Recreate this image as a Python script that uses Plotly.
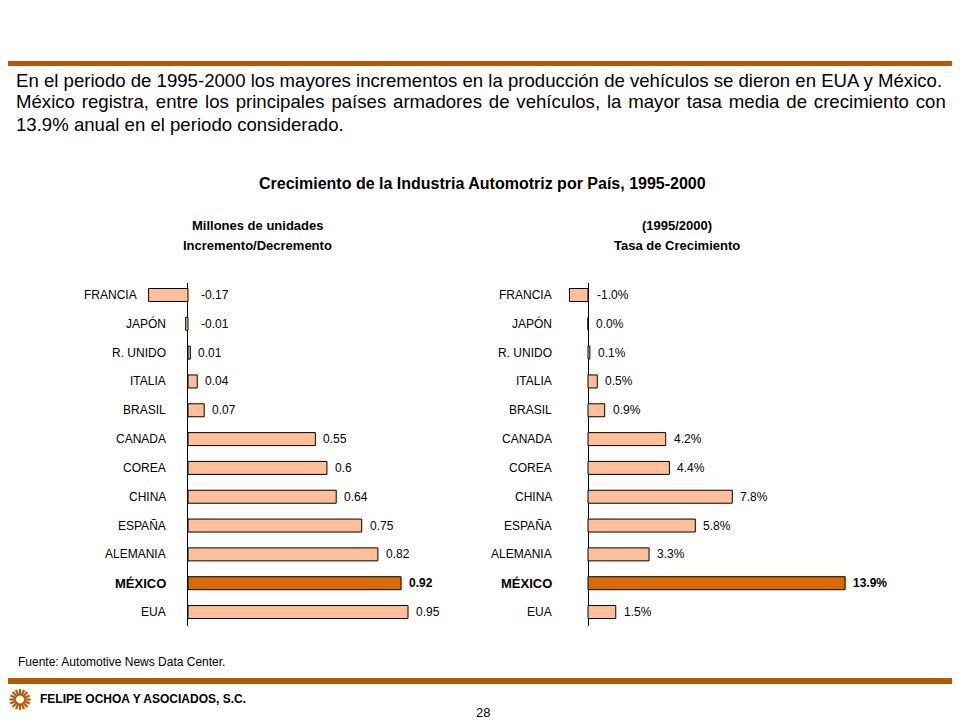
import math
import plotly.graph_objects as go

W, H = 960, 720

countries = ["FRANCIA", "JAPÓN", "R. UNIDO", "ITALIA", "BRASIL", "CANADA",
             "COREA", "CHINA", "ESPAÑA", "ALEMANIA", "MÉXICO", "EUA"]
incremento = [-0.17, -0.01, 0.01, 0.04, 0.07, 0.55, 0.6, 0.64, 0.75, 0.82, 0.92, 0.95]
tasa = [-1.0, 0.0, 0.1, 0.5, 0.9, 4.2, 4.4, 7.8, 5.8, 3.3, 13.9, 1.5]
highlight = "MÉXICO"

paragraph = [
    "En el periodo de 1995-2000 los mayores incrementos en la producción de vehículos se dieron en EUA y México.",
    "México registra, entre los principales países armadores de vehículos, la mayor tasa media de crecimiento con",
    "13.9% anual en el periodo considerado.",
]
paragraph_word_spacing = [0, 1.7, 0]
title = "Crecimiento de la Industria Automotriz por País, 1995-2000"
left_sub = ["Millones de unidades", "Incremento/Decremento"]
right_sub = ["(1995/2000)", "Tasa de Crecimiento"]
source = "Fuente: Automotive News Data Center."
company = "FELIPE OCHOA Y ASOCIADOS, S.C."
page = "28"

FONT = "Arial, Liberation Sans, sans-serif"
BAR = "#FFBF99"
BAR_HI = "#D96C00"
BROWN = "#B35A00"


def px(x):
    return x / W


def py(y):
    return 1 - y / H


fig = go.Figure()

ydom = [py(626), py(283)]
yrange = [11.485, -0.416]
panels = [
    dict(vals=incremento, xa="x", ya="y", dom=[130, 450], rng=[-0.2504, 1.1313],
         fmt=lambda v: f"{v:g}", gap_axis=20, gap_bar=10, vneg=11, vpos=6),
    dict(vals=tasa, xa="x2", ya="y2", dom=[540, 900], rng=[-2.595, 16.865],
         fmt=lambda v: f"{v:.1f}%", gap_axis=34, gap_bar=6, vneg=7, vpos=6),
]

annotations = []
for p in panels:
    colors = [BAR_HI if c == highlight else BAR for c in countries]
    fig.add_trace(go.Bar(
        x=p["vals"], y=countries, orientation="h", xaxis=p["xa"], yaxis=p["ya"],
        marker=dict(color=colors, line=dict(color="black", width=1)),
        width=0.45, showlegend=False, hoverinfo="skip",
    ))
    ppu = (p["dom"][1] - p["dom"][0]) / (p["rng"][1] - p["rng"][0])
    for c, v in zip(countries, p["vals"]):
        bold = c == highlight
        lx = min(0 - p["gap_axis"] / ppu, min(v, 0) - p["gap_bar"] / ppu)
        annotations.append(dict(
            x=lx, y=c, xref=p["xa"], yref=p["ya"], xanchor="right", yanchor="middle",
            text=f"<b>{c}</b>" if bold else c, showarrow=False,
            font=dict(family=FONT, size=13 if bold else 12, color="black"),
        ))
        annotations.append(dict(
            x=max(v, 0), y=c, xref=p["xa"], yref=p["ya"], xanchor="left", yanchor="middle",
            xshift=p["vneg"] if v < 0 else p["vpos"],
            text=f"<b>{p['fmt'](v)}</b>" if bold else p["fmt"](v), showarrow=False,
            font=dict(family=FONT, size=12, color="black"),
        ))

axis_common = dict(showgrid=False, showticklabels=False, ticks="", showline=False,
                   fixedrange=True)
fig.update_layout(
    xaxis=dict(domain=[px(130), px(450)], range=panels[0]["rng"], zeroline=True,
               zerolinecolor="black", zerolinewidth=1, anchor="y", **axis_common),
    yaxis=dict(domain=ydom, range=yrange, type="category", categoryarray=countries,
               zeroline=False, anchor="x", **axis_common),
    xaxis2=dict(domain=[px(540), px(900)], range=panels[1]["rng"], zeroline=True,
                zerolinecolor="black", zerolinewidth=1, anchor="y2", **axis_common),
    yaxis2=dict(domain=ydom, range=yrange, type="category", categoryarray=countries,
                zeroline=False, anchor="x2", **axis_common),
)

for i, line in enumerate(paragraph):
    ws = paragraph_word_spacing[i]
    txt = f'<span style="word-spacing:{ws}px">{line}</span>' if ws else line
    annotations.append(dict(
        x=px(14), y=py(80 + 22 * i), xref="paper", yref="paper", xanchor="left",
        yanchor="middle", text=txt, showarrow=False,
        font=dict(family=FONT, size=18.6, color="black"),
    ))

annotations.append(dict(
    x=px(482), y=py(183), xref="paper", yref="paper", xanchor="center", yanchor="middle",
    text=f"<b>{title}</b>", showarrow=False, font=dict(family=FONT, size=16, color="black"),
))
for cx, subs in ((257, left_sub), (677, right_sub)):
    for j, s in enumerate(subs):
        annotations.append(dict(
            x=px(cx), y=py(225 + 20 * j), xref="paper", yref="paper", xanchor="center",
            yanchor="middle", text=f"<b>{s}</b>", showarrow=False,
            font=dict(family=FONT, size=13, color="black"),
        ))

annotations.append(dict(
    x=px(16), y=py(662), xref="paper", yref="paper", xanchor="left", yanchor="middle",
    text=source, showarrow=False, font=dict(family=FONT, size=12, color="black"),
))
annotations.append(dict(
    x=px(38), y=py(699), xref="paper", yref="paper", xanchor="left", yanchor="middle",
    text=f"<b>{company}</b>", showarrow=False, font=dict(family=FONT, size=12, color="black"),
))
annotations.append(dict(
    x=px(483), y=py(712), xref="paper", yref="paper", xanchor="center", yanchor="middle",
    text=page, showarrow=False, font=dict(family=FONT, size=13, color="black"),
))

shapes = [
    dict(type="rect", xref="paper", yref="paper", x0=px(8), x1=px(952), y0=py(66), y1=py(61),
         fillcolor=BROWN, line=dict(width=0)),
    dict(type="rect", xref="paper", yref="paper", x0=px(8), x1=px(952), y0=py(684), y1=py(678),
         fillcolor=BROWN, line=dict(width=0)),
]
cx, cy = 20, 699.5
for k in range(16):
    a = 2 * math.pi * k / 16
    shapes.append(dict(
        type="line", xref="paper", yref="paper",
        x0=px(cx + 4 * math.cos(a)), y0=py(cy + 4 * math.sin(a)),
        x1=px(cx + 10.5 * math.cos(a)), y1=py(cy + 10.5 * math.sin(a)),
        line=dict(color=BROWN, width=2.2),
    ))

fig.update_layout(
    width=W, height=H, margin=dict(l=0, r=0, t=0, b=0),
    paper_bgcolor="white", plot_bgcolor="rgba(0,0,0,0)",
    annotations=annotations, shapes=shapes, bargap=0.5,
)

fig.write_html(
    "out.html",
    config={"displayModeBar": False, "staticPlot": True},
    post_script="document.body.style.margin='0';document.body.style.overflow='hidden';",
)
